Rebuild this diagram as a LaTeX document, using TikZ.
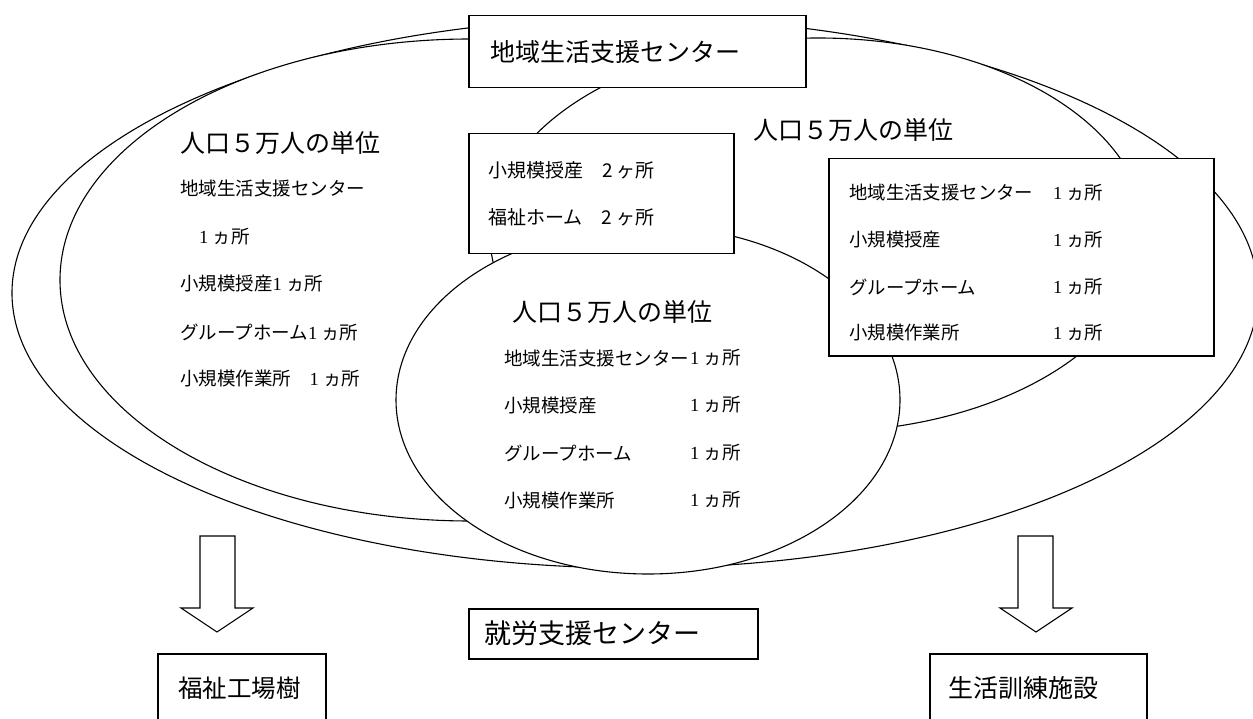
\documentclass[tikz,border=0pt]{standalone}
\usepackage{fontspec}
\setmainfont{Noto Sans CJK JP}
\newfontfamily\sr{Liberation Serif}
\tikzset{
  ell/.style={draw=black, fill=white, line width=1.1pt},
  box/.style={draw=black, fill=white, line width=1.5pt, inner sep=0pt},
  lbl/.style={anchor=west, inner sep=0pt, font=\fontsize{18.5}{20}\selectfont},
  head/.style={anchor=west, inner sep=0pt, font=\fontsize{25}{28}\selectfont},
  big/.style={anchor=west, inner sep=0pt, font=\fontsize{27}{30}\selectfont},
  blockarrow/.style={draw=black, fill=white, line width=1.1pt, line join=miter},
}
\begin{document}
\begin{tikzpicture}[x=1pt,y=-1pt]
\useasboundingbox (0,0) rectangle (1253,719);
\clip (0,0) rectangle (1253,719);
\fill[white] (0,0) rectangle (1253,719);

% ellipses
\draw[ell] (635,293) ellipse [x radius=623pt, y radius=275pt];
\draw[ell] (470,280) ellipse [x radius=410pt, y radius=241pt];
\draw[ell] (818,235) ellipse [x radius=328pt, y radius=197pt];
\draw[ell] (648,400) ellipse [x radius=252pt, y radius=174pt];

% top box
\node[box, anchor=north west, minimum width=337pt, minimum height=72pt] (topbox) at (468,15) {};
\node[head] (toptext) at (490,52) {地域生活支援センター};

% small box
\node[box, anchor=north west, minimum width=265pt, minimum height=120pt] (smallbox) at (468,133) {};
\node[lbl, font=\fontsize{19}{21}\selectfont] (s1) at (488,170) {小規模授産　2 ヶ所};
\node[lbl, font=\fontsize{19}{21}\selectfont] (s2) at (488,217) {福祉ホーム　2 ヶ所};

% right box
\node[box, anchor=north west, minimum width=385pt, minimum height=197pt] (rightbox) at (828,158) {};
\node[lbl, font=\fontsize{18.4}{20}\selectfont] (r1) at (849,193) {地域生活支援センター};
\node[lbl, font=\fontsize{18.4}{20}\selectfont] (r2) at (849,240) {小規模授産};
\node[lbl, font=\fontsize{18.4}{20}\selectfont] (r3) at (849,287) {グループホーム};
\node[lbl, font=\fontsize{18.4}{20}\selectfont] (r4) at (849,333) {小規模作業所};
\node[lbl, font=\fontsize{18.4}{20}\selectfont] (rc1) at (1053,193) {{\sr 1} ヵ所};
\node[lbl, font=\fontsize{18.4}{20}\selectfont] (rc2) at (1053,240) {{\sr 1} ヵ所};
\node[lbl, font=\fontsize{18.4}{20}\selectfont] (rc3) at (1053,287) {{\sr 1} ヵ所};
\node[lbl, font=\fontsize{18.4}{20}\selectfont] (rc4) at (1053,333) {{\sr 1} ヵ所};
\node[head] (rhead) at (753,130) {人口５万人の単位};

% left block
\node[head] (lhead) at (180,143) {人口５万人の単位};
\node[lbl] (l1) at (180,188) {地域生活支援センター};
\node[lbl] (l2) at (199,237) {{\sr 1} ヵ所};
\node[lbl] (l3) at (180,283) {小規模授産{\sr 1} ヵ所};
\node[lbl] (l4) at (180,332) {グループホーム{\sr 1} ヵ所};
\node[lbl] (l5) at (180,378) {小規模作業所　{\sr 1} ヵ所};

% middle block
\node[head] (mhead) at (512,312) {人口５万人の単位};
\node[lbl] (m1) at (504,358) {地域生活支援センター};
\node[lbl] (m2) at (504,405) {小規模授産};
\node[lbl] (m3) at (504,453) {グループホーム};
\node[lbl] (m4) at (504,500) {小規模作業所};
\node[lbl] (mc1) at (690,358) {{\sr 1} ヵ所};
\node[lbl] (mc2) at (690,405) {{\sr 1} ヵ所};
\node[lbl] (mc3) at (690,453) {{\sr 1} ヵ所};
\node[lbl] (mc4) at (690,500) {{\sr 1} ヵ所};

% block arrows
\draw[blockarrow] (200,536) -- (235,536) -- (235,608) -- (253,608) -- (217,632) -- (181,608) -- (200,608) -- cycle;
\draw[blockarrow] (1018,536) -- (1053,536) -- (1053,608) -- (1072,608) -- (1036,632) -- (1000,608) -- (1018,608) -- cycle;

% bottom boxes
\node[box, anchor=north west, minimum width=289pt, minimum height=50pt] (jobbox) at (468,608) {};
\node[big] (jobtext) at (484,633) {就労支援センター};
\node[box, anchor=north west, minimum width=168pt, minimum height=90pt] (fbox) at (157,653) {};
\node[head, font=\fontsize{24.5}{27}\selectfont] (ftext) at (178,688) {福祉工場樹};
\node[box, anchor=north west, minimum width=217pt, minimum height=90pt] (lbox) at (929,653) {};
\node[head, font=\fontsize{25}{27}\selectfont] (ltext) at (948,688) {生活訓練施設};
\end{tikzpicture}
\end{document}
